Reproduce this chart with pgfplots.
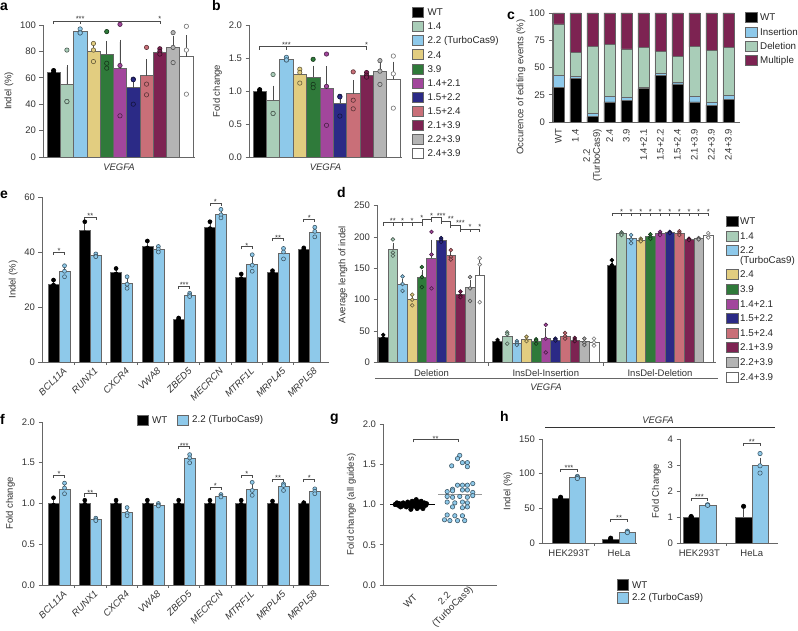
\documentclass[border=0pt]{standalone}
\usepackage{fontspec}
\setmainfont{Liberation Sans}
\usepackage{pgfplots}
\pgfplotsset{compat=1.18}

\definecolor{cWT}{HTML}{000000}
\definecolor{cA}{HTML}{A9CDB8}
\definecolor{cB}{HTML}{8EC9EA}
\definecolor{cC}{HTML}{E2CD80}
\definecolor{cD}{HTML}{2F7A3A}
\definecolor{cE}{HTML}{A2469C}
\definecolor{cF}{HTML}{2B2A86}
\definecolor{cG}{HTML}{C96F78}
\definecolor{cH}{HTML}{7D2352}
\definecolor{cI}{HTML}{B4B4B4}
\definecolor{cJ}{HTML}{FFFFFF}

\pgfplotsset{
  prism/.style={
    scale only axis, anchor=south west, clip=false,
    axis lines*=left,
    axis line style={-, black!60, line width=0.7pt},
    tick align=outside, major tick length=3.5pt,
    tick style={black!60, line width=0.7pt},
    ticklabel style={font=\fontsize{9.5}{10}\selectfont, text=black!80},
    label style={font=\fontsize{9.5}{10}\selectfont, text=black!80},
    /pgf/number format/assume math mode=true,
  },
  onedec/.style={yticklabel style={/pgf/number format/.cd, fixed, fixed zerofill, precision=1}},
}

\newcommand\ms{2.2pt}
% bar with upward error bar: x, mean, err, colour, width
\newcommand\bb[5]{%
  \addplot[ybar, bar shift=0pt, bar width=#5, fill=#4, draw=black!60, line width=0.6pt,
    error bars/.cd, y dir=plus, y explicit,
    error bar style={black!70, line width=0.6pt},
    error mark options={black!70, mark size=2.2pt, line width=0.6pt}]
    coordinates {(#1,#2) +- (0,#3)};}
% replicate points
\newcommand\pts[2]{%
  \addplot[only marks, mark=*, mark size=\ms, line width=0.6pt,
    mark options={fill=#1, draw=#1!45!black}] coordinates {#2};}
% significance bracket: x1, x2, y, stars
\newcommand\sig[4]{%
  \draw[black!70, line width=0.6pt] ([yshift=-3pt]axis cs:#1,#3) -- (axis cs:#1,#3)
    -- (axis cs:#2,#3) -- ([yshift=-3pt]axis cs:#2,#3);
  \node[font=\fontsize{7.5}{8}\selectfont, text=black!80, inner sep=0pt, anchor=south, yshift=-2pt]
    at (axis cs:{(#1+#2)/2},#3) {#4};}
\newcommand\stars[3]{%
  \node[font=\fontsize{7.5}{8}\selectfont, text=black!80, inner sep=0pt, anchor=south, yshift=-1pt]
    at (axis cs:#1,#2) {#3};}
\newcommand\sep[1]{\draw[black!60, line width=0.7pt] (axis cs:#1,0) -- ++(0pt,-3.5pt);}

\begin{document}
\begin{tikzpicture}
\path[use as bounding box] (0pt,0pt) rectangle (798pt,631pt);

% ---------------- a ----------------
\begin{axis}[prism, at={(43pt,474pt)}, width=152pt, height=132pt,
  xmin=0.2, xmax=11.65, ymin=0, ymax=100, ytick={0,20,...,100}, xtick=\empty,
  ylabel={Indel (\%)}, xlabel={\itshape VEGFA}]
\bb{1}{64.2}{1.2}{cWT}{1}\pts{cWT}{(1,65.5)(1,63.5)(1,63.6)}
\bb{2}{55}{13}{cA}{1}\pts{cA}{(2,81)(2,42)(2,42)}
\bb{3}{95}{1}{cB}{1}\pts{cB}{(3,97)(3,94)(3,94)}
\bb{4}{79.8}{4}{cC}{1}\pts{cC}{(4,86)(4,81)(4,72.3)}
\bb{5}{77.8}{8.5}{cD}{1}\pts{cD}{(5,95)(5,71)(5,67.3)}
\bb{6}{67}{20}{cE}{1}\pts{cE}{(6,100.5)(6,69.3)(6,31.2)}
\bb{7}{52.5}{6.5}{cF}{1}\pts{cF}{(7,59)(7,58.5)(7,40)}
\bb{8}{61.7}{10.8}{cG}{1}\pts{cG}{(8,83)(8,55.2)(8,47.1)}
\bb{9}{79.6}{1.2}{cH}{1}\pts{cH}{(9,82)(9,80)(9,78)}
\bb{10}{83.1}{6.9}{cI}{1}\pts{cI}{(10,94.2)(10,83)(10,71.5)}
\bb{11}{76}{14.7}{cJ}{1}\pts{cJ}{(11,99)(11,81)(11,47.6)}
\draw[black!70, line width=0.6pt] ([yshift=-3pt]axis cs:1,103) -- (axis cs:1,103) -- (axis cs:9,103) -- ([yshift=-3pt]axis cs:9,103);
\draw[black!70, line width=0.6pt] (axis cs:3,103) -- ([yshift=-3pt]axis cs:3,103);
\stars{3}{103}{***}\stars{9}{103}{*}
\end{axis}

% ---------------- b ----------------
\begin{axis}[prism, onedec, at={(249pt,474pt)}, width=153pt, height=132pt,
  xmin=0.2, xmax=11.65, ymin=0, ymax=2, ytick={0,0.5,...,2}, xtick=\empty,
  ylabel={Fold change}, xlabel={\itshape VEGFA}]
\bb{1}{1.0}{0.02}{cWT}{1}\pts{cWT}{(1,1.02)(1,0.99)(1,0.99)}
\bb{2}{0.857}{0.19}{cA}{1}\pts{cA}{(2,1.25)(2,0.66)(2,0.66)}
\bb{3}{1.48}{0.02}{cB}{1}\pts{cB}{(3,1.51)(3,1.47)(3,1.47)}
\bb{4}{1.25}{0.06}{cC}{1}\pts{cC}{(4,1.33)(4,1.28)(4,1.12)}
\bb{5}{1.21}{0.14}{cD}{1}\pts{cD}{(5,1.48)(5,1.1)(5,1.05)}
\bb{6}{1.04}{0.3}{cE}{1}\pts{cE}{(6,1.56)(6,1.07)(6,0.48)}
\bb{7}{0.82}{0.1}{cF}{1}\pts{cF}{(7,0.92)(7,0.91)(7,0.62)}
\bb{8}{0.96}{0.17}{cG}{1}\pts{cG}{(8,1.29)(8,0.86)(8,0.73)}
\bb{9}{1.24}{0.02}{cH}{1}\pts{cH}{(9,1.28)(9,1.24)(9,1.21)}
\bb{10}{1.30}{0.1}{cI}{1}\pts{cI}{(10,1.46)(10,1.30)(10,1.10)}
\bb{11}{1.18}{0.23}{cJ}{1}\pts{cJ}{(11,1.53)(11,1.26)(11,0.74)}
\draw[black!70, line width=0.6pt] ([yshift=-3pt]axis cs:1,1.67) -- (axis cs:1,1.67) -- (axis cs:9,1.67) -- ([yshift=-3pt]axis cs:9,1.67);
\draw[black!70, line width=0.6pt] (axis cs:3,1.67) -- ([yshift=-3pt]axis cs:3,1.67);
\stars{3}{1.67}{***}\stars{9}{1.67}{*}
\end{axis}

% ---------------- c ----------------
\begin{axis}[prism, ybar stacked, bar width=0.65, at={(552pt,509pt)}, width=188pt, height=109pt,
  xmin=-0.38, xmax=10.68, ymin=0, ymax=100, ytick={0,25,50,75,100},
  xtick={0,...,10}, xtick style={draw=none},
  xticklabels={WT,1.4,{2.2\\(TurboCas9)},2.4,3.9,1.4+2.1,1.5+2.2,1.5+2.4,2.1+3.9,2.2+3.9,2.4+3.9},
  xticklabel style={rotate=90, anchor=east, align=center},
  ylabel={Occurence of editing events (\%)},
  ylabel style={at={(ticklabel cs:0.32)}}, ylabel shift=-3pt]
\addplot[fill=cWT, draw=black!60, line width=0.6pt] coordinates {(0,32)(1,40)(2,5)(3,18.5)(4,20)(5,30.5)(6,43)(7,35)(8,18.5)(9,15.5)(10,20.5)};
\addplot[fill=cB, draw=black!60, line width=0.6pt] coordinates {(0,11)(1,2)(2,3)(3,5)(4,3)(5,1.5)(6,1.5)(7,1.5)(8,5)(9,2.5)(10,4)};
\addplot[fill=cA, draw=black!60, line width=0.6pt] coordinates {(0,47)(1,22)(2,61)(3,47.5)(4,44)(5,36.5)(6,20)(7,24)(8,45.5)(9,47.5)(10,44)};
\addplot[fill=cH, draw=black!60, line width=0.6pt] coordinates {(0,10)(1,36)(2,31)(3,29)(4,33)(5,31.5)(6,35.5)(7,39.5)(8,31)(9,34.5)(10,31.5)};
\end{axis}

% ---------------- d ----------------
\renewcommand\ms{1.9pt}
\begin{axis}[prism, at={(377pt,268.5pt)}, width=339pt, height=157pt,
  xmin=-0.65, xmax=34.5, ymin=0, ymax=250, ytick={0,50,...,250},
  xtick={5,16.85,28.7}, xtick style={draw=none},
  xticklabels={Deletion,InsDel-Insertion,InsDel-Deletion},
  ylabel={Average length of indel}, ylabel style={at={(ticklabel cs:0.56)}}]
\bb{0}{40}{2}{cWT}{1}\pts{cWT}{(0,44)(0,39)(0,37)}
\bb{1}{180}{6}{cA}{1}\pts{cA}{(1,196)(1,175)(1,170)}
\bb{2}{125}{5}{cB}{1}\pts{cB}{(2,137)(2,125)(2,114)}
\bb{3}{100}{5}{cC}{1}\pts{cC}{(3,108)(3,100)(3,91)}
\bb{4}{136}{8}{cD}{1}\pts{cD}{(4,152)(4,136)(4,120)}
\bb{5}{166}{26}{cE}{1}\pts{cE}{(5,208)(5,172)(5,118)}
\bb{6}{195}{3}{cF}{1}\pts{cF}{(6,198)(6,195)(6,192)}
\bb{7}{170}{4}{cG}{1}\pts{cG}{(7,179)(7,168)(7,164)}
\bb{8}{108}{3}{cH}{1}\pts{cH}{(8,113)(8,107)(8,104)}
\bb{9}{120}{8}{cI}{1}\pts{cI}{(9,136)(9,118)(9,98)}
\bb{10}{139}{20}{cJ}{1}\pts{cJ}{(10,166)(10,156)(10,96)}
\bb{11.85}{33}{2}{cWT}{1}\pts{cWT}{(11.85,36)(11.85,33)(11.85,31)}
\bb{12.85}{41}{4}{cA}{1}\pts{cA}{(12.85,48)(12.85,45)(12.85,30)}
\bb{13.85}{31}{2}{cB}{1}\pts{cB}{(13.85,34)(13.85,31)(13.85,28)}
\bb{14.85}{37}{2}{cC}{1}\pts{cC}{(14.85,41)(14.85,36)(14.85,34)}
\bb{15.85}{34}{2}{cD}{1}\pts{cD}{(15.85,37)(15.85,35)(15.85,30)}
\bb{16.85}{38}{13}{cE}{1}\pts{cE}{(16.85,60)(16.85,38)(16.85,16)}
\bb{17.85}{36}{1}{cF}{1}\pts{cF}{(17.85,38)(17.85,36)(17.85,35)}
\bb{18.85}{42}{3}{cG}{1}\pts{cG}{(18.85,47)(18.85,42)(18.85,38)}
\bb{19.85}{36}{2}{cH}{1}\pts{cH}{(19.85,39)(19.85,36)(19.85,34)}
\bb{20.85}{33}{3}{cI}{1}\pts{cI}{(20.85,38)(20.85,32)(20.85,28)}
\bb{21.85}{32}{3}{cJ}{1}\pts{cJ}{(21.85,38)(21.85,32)(21.85,27)}
\bb{23.7}{155}{5}{cWT}{1}\pts{cWT}{(23.7,163)(23.7,155)(23.7,149)}
\bb{24.7}{205}{2}{cA}{1}\pts{cA}{(24.7,207)(24.7,205)(24.7,203)}
\bb{25.7}{197}{4}{cB}{1}\pts{cB}{(25.7,203)(25.7,196)(25.7,190)}
\bb{26.7}{195}{2}{cC}{1}\pts{cC}{(26.7,197)(26.7,195)(26.7,193)}
\bb{27.7}{201}{3}{cD}{1}\pts{cD}{(27.7,204)(27.7,200)(27.7,197)}
\bb{28.7}{205}{2}{cE}{1}\pts{cE}{(28.7,208)(28.7,205)(28.7,203)}
\bb{29.7}{207}{1}{cF}{1}\pts{cF}{(29.7,208)(29.7,207)(29.7,206)}
\bb{30.7}{206}{2}{cG}{1}\pts{cG}{(30.7,209)(30.7,206)(30.7,203)}
\bb{31.7}{196}{1}{cH}{1}\pts{cH}{(31.7,197)(31.7,196)(31.7,195)}
\bb{32.7}{197}{1}{cI}{1}\pts{cI}{(32.7,198)(32.7,197)(32.7,196)}
\bb{33.7}{202}{3}{cJ}{1}\pts{cJ}{(33.7,206)(33.7,202)(33.7,199)}
\sep{10.93}\sep{22.78}
\draw[black!70, line width=0.6pt] (axis cs:0,222.6) -- (axis cs:4,222.6) -- (axis cs:4,228) -- (axis cs:5,228) -- (axis cs:5,231) -- (axis cs:6,231) -- (axis cs:6,225) -- (axis cs:7,225) -- (axis cs:7,219) -- (axis cs:8,219) -- (axis cs:8,212.5) -- (axis cs:10,212.5);
\draw[black!70, line width=0.6pt] (axis cs:0,222.6) -- ++(0pt,-3pt) (axis cs:1,222.6) -- ++(0pt,-3pt) (axis cs:2,222.6) -- ++(0pt,-3pt) (axis cs:3,222.6) -- ++(0pt,-3pt) (axis cs:4,222.6) -- ++(0pt,-3pt) (axis cs:5,228) -- ++(0pt,-3pt) (axis cs:6,225) -- ++(0pt,-3pt) (axis cs:7,219) -- ++(0pt,-3pt) (axis cs:8,212.5) -- ++(0pt,-3pt) (axis cs:9,212.5) -- ++(0pt,-3pt) (axis cs:10,212.5) -- ++(0pt,-3pt);
\stars{1}{222.6}{**}\stars{2}{222.6}{*}\stars{3}{222.6}{*}\stars{4}{228}{*}\stars{5}{231}{*}
\stars{6}{231}{***}\stars{7}{225}{**}\stars{8}{219}{***}\stars{9}{212.5}{*}\stars{10}{212.5}{*}
\draw[black!70, line width=0.6pt] (axis cs:23.7,237.6) -- (axis cs:33.7,237.6);
\pgfplotsinvokeforeach{0,...,10}{\draw[black!70, line width=0.6pt] (axis cs:{23.7+#1},237.6) -- ++(0pt,-3pt);}
\pgfplotsinvokeforeach{1,...,10}{\stars{{23.7+#1}}{237.6}{*}}
\end{axis}
\draw[black!60, line width=0.7pt] (375pt,253pt) -- (718pt,253pt);
\node[font=\itshape\fontsize{9.5}{10}\selectfont, text=black!80] at (546pt,244pt) {VEGFA};

% ---------------- e ----------------
\renewcommand\ms{2pt}
\begin{axis}[prism, at={(42pt,269pt)}, width=287pt, height=165pt,
  xmin=0.456, xmax=9.63, ymin=0, ymax=60, ytick={0,20,40,60},
  xtick={1,...,9}, xtick style={draw=none},
  xticklabels={BCL11A,RUNX1,CXCR4,VWA8,ZBED5,MECRCN,MTRF1L,MRPL45,MRPL58},
  xticklabel style={rotate=45, anchor=north east, font=\itshape\fontsize{9.5}{10}\selectfont, xshift=5pt},
  ylabel={Indel (\%)}]
\bb{0.824}{28.3}{0.8}{cWT}{0.352}\pts{cWT}{(0.824,29.8)(0.824,28)(0.824,27.5)}
\bb{1.176}{33}{1.2}{cB}{0.352}\pts{cB}{(1.176,35)(1.176,33)(1.176,31)}
\bb{1.824}{48}{1.5}{cWT}{0.352}\pts{cWT}{(1.824,51)(1.824,47)(1.824,46)}
\bb{2.176}{38.7}{0.4}{cB}{0.352}\pts{cB}{(2.176,39.3)(2.176,38.5)(2.176,38.3)}
\bb{2.824}{32.6}{0.8}{cWT}{0.352}\pts{cWT}{(2.824,34)(2.824,32)(2.824,31.8)}
\bb{3.176}{28.7}{1.2}{cB}{0.352}\pts{cB}{(3.176,31)(3.176,28.3)(3.176,26.8)}
\bb{3.824}{42}{1}{cWT}{0.352}\pts{cWT}{(3.824,44)(3.824,41.5)(3.824,40.5)}
\bb{4.176}{41}{0.6}{cB}{0.352}\pts{cB}{(4.176,42)(4.176,41)(4.176,40)}
\bb{4.824}{15.6}{0.3}{cWT}{0.352}\pts{cWT}{(4.824,16)(4.824,15.5)(4.824,15.3)}
\bb{5.176}{24.4}{0.4}{cB}{0.352}\pts{cB}{(5.176,25)(5.176,24.4)(5.176,23.8)}
\bb{5.824}{49}{1}{cWT}{0.352}\pts{cWT}{(5.824,51)(5.824,48.5)(5.824,47.5)}
\bb{6.176}{53.8}{0.8}{cB}{0.352}\pts{cB}{(6.176,55.5)(6.176,53.5)(6.176,52.4)}
\bb{6.824}{30.7}{0.6}{cWT}{0.352}\pts{cWT}{(6.824,32)(6.824,30.3)(6.824,29.8)}
\bb{7.176}{35.7}{1.6}{cB}{0.352}\pts{cB}{(7.176,39)(7.176,35.2)(7.176,33)}
\bb{7.824}{32.5}{0.4}{cWT}{0.352}\pts{cWT}{(7.824,33.2)(7.824,32.3)(7.824,32)}
\bb{8.176}{39.5}{1}{cB}{0.352}\pts{cB}{(8.176,41.3)(8.176,40)(8.176,37.5)}
\bb{8.824}{41}{0.3}{cWT}{0.352}\pts{cWT}{(8.824,41.5)(8.824,41)(8.824,40.6)}
\bb{9.176}{47.3}{0.8}{cB}{0.352}\pts{cB}{(9.176,49)(9.176,47.5)(9.176,45.5)}
\sep{1.5}\sep{2.5}\sep{3.5}\sep{4.5}\sep{5.5}\sep{6.5}\sep{7.5}\sep{8.5}
\sig{0.824}{1.176}{40}{*}\sig{1.824}{2.176}{52.7}{**}\sig{4.824}{5.176}{27.6}{***}
\sig{5.824}{6.176}{57.8}{*}\sig{6.824}{7.176}{42}{*}\sig{7.824}{8.176}{45}{**}\sig{8.824}{9.176}{52}{*}
\end{axis}

% ---------------- f ----------------
\begin{axis}[prism, onedec, at={(42pt,46pt)}, width=287pt, height=163pt,
  xmin=0.456, xmax=9.63, ymin=0, ymax=2, ytick={0,0.5,...,2},
  xtick={1,...,9}, xtick style={draw=none},
  xticklabels={BCL11A,RUNX1,CXCR4,VWA8,ZBED5,MECRCN,MTRF1L,MRPL45,MRPL58},
  xticklabel style={rotate=45, anchor=north east, font=\itshape\fontsize{9.5}{10}\selectfont, xshift=5pt},
  ylabel={Fold change}]
\bb{0.824}{1}{0.04}{cWT}{0.352}\pts{cWT}{(0.824,1.07)(0.824,0.98)(0.824,0.96)}
\bb{1.176}{1.18}{0.03}{cB}{0.352}\pts{cB}{(1.176,1.25)(1.176,1.19)(1.176,1.12)}
\bb{1.824}{1}{0.02}{cWT}{0.352}\pts{cWT}{(1.824,1.04)(1.824,0.99)(1.824,0.97)}
\bb{2.176}{0.80}{0.01}{cB}{0.352}\pts{cB}{(2.176,0.82)(2.176,0.80)(2.176,0.79)}
\bb{2.824}{1}{0.02}{cWT}{0.352}\pts{cWT}{(2.824,1.04)(2.824,0.99)(2.824,0.97)}
\bb{3.176}{0.89}{0.03}{cB}{0.352}\pts{cB}{(3.176,0.95)(3.176,0.88)(3.176,0.85)}
\bb{3.824}{1}{0.02}{cWT}{0.352}\pts{cWT}{(3.824,1.04)(3.824,0.99)(3.824,0.97)}
\bb{4.176}{0.98}{0.01}{cB}{0.352}\pts{cB}{(4.176,1.0)(4.176,0.98)(4.176,0.97)}
\bb{4.824}{1}{0.02}{cWT}{0.352}\pts{cWT}{(4.824,1.04)(4.824,0.99)(4.824,0.97)}
\bb{5.176}{1.55}{0.02}{cB}{0.352}\pts{cB}{(5.176,1.60)(5.176,1.56)(5.176,1.50)}
\bb{5.824}{1}{0.02}{cWT}{0.352}\pts{cWT}{(5.824,1.04)(5.824,0.99)(5.824,0.97)}
\bb{6.176}{1.09}{0.01}{cB}{0.352}\pts{cB}{(6.176,1.11)(6.176,1.09)(6.176,1.08)}
\bb{6.824}{1}{0.02}{cWT}{0.352}\pts{cWT}{(6.824,1.04)(6.824,0.99)(6.824,0.97)}
\bb{7.176}{1.17}{0.04}{cB}{0.352}\pts{cB}{(7.176,1.26)(7.176,1.16)(7.176,1.10)}
\bb{7.824}{1}{0.02}{cWT}{0.352}\pts{cWT}{(7.824,1.03)(7.824,0.99)(7.824,0.98)}
\bb{8.176}{1.21}{0.03}{cB}{0.352}\pts{cB}{(8.176,1.24)(8.176,1.22)(8.176,1.16)}
\bb{8.824}{1}{0.01}{cWT}{0.352}\pts{cWT}{(8.824,1.01)(8.824,1.0)(8.824,0.99)}
\bb{9.176}{1.15}{0.02}{cB}{0.352}\pts{cB}{(9.176,1.18)(9.176,1.15)(9.176,1.12)}
\sep{1.5}\sep{2.5}\sep{3.5}\sep{4.5}\sep{5.5}\sep{6.5}\sep{7.5}\sep{8.5}
\sig{0.824}{1.176}{1.35}{*}\sig{1.824}{2.176}{1.12}{**}\sig{4.824}{5.176}{1.70}{***}
\sig{5.824}{6.176}{1.20}{*}\sig{6.824}{7.176}{1.35}{*}\sig{7.824}{8.176}{1.30}{**}\sig{8.824}{9.176}{1.30}{*}
\end{axis}

% ---------------- g ----------------
\renewcommand\ms{2.2pt}
\begin{axis}[prism, onedec, at={(383pt,46pt)}, width=114pt, height=161pt,
  xmin=-0.67, xmax=1.87, ymin=0, ymax=2, ytick={0,0.5,...,2},
  xtick={0,1}, xtick style={draw=none}, xticklabels={WT,{}},
  xticklabel style={rotate=45, anchor=north east},
  ylabel={Fold change (all guides)}]
\pts{cWT}{(-0.4,1.00)(-0.33,0.99)(-0.3,1.01)(-0.25,0.98)(-0.22,1.02)(-0.18,1.00)(-0.15,0.97)(-0.12,1.03)(-0.1,0.99)(-0.07,1.01)(-0.04,0.96)(-0.02,1.04)(0,1.00)(0.03,0.98)(0.05,1.02)(0.07,1.06)(0.1,0.99)(0.12,1.03)(0.15,0.97)(0.17,1.01)(0.2,1.00)(0.22,0.95)(0.25,1.02)(0.28,0.99)(0.3,1.01)(-0.36,1.02)(-0.28,0.97)(0.09,0.95)(0.18,1.04)(-0.05,0.94)}
\pts{cB}{(1.04,1.61)(0.99,1.57)(1.10,1.52)(1.21,1.52)(0.86,1.48)(1.21,1.47)(0.88,1.19)(0.99,1.24)(1.10,1.24)(1.21,1.24)(1.33,1.26)(0.76,1.16)(0.88,1.17)(1.10,1.18)(1.21,1.18)(1.33,1.15)(0.76,1.10)(0.88,1.09)(1.04,1.10)(1.21,1.09)(1.33,1.11)(0.76,1.03)(0.93,1.02)(1.10,1.03)(1.21,1.02)(0.88,0.97)(1.10,0.96)(1.21,0.97)(0.76,0.87)(0.93,0.86)(1.10,0.86)(0.70,0.81)(0.82,0.80)(0.99,0.80)(1.15,0.80)}
\addplot[black, line width=0.9pt] coordinates {(-0.51,1.0)(0.49,1.0)};
\addplot[black!40, line width=0.9pt] coordinates {(0.56,1.13)(1.53,1.13)};
\sig{0}{1}{1.81}{**}
\node[rotate=45, anchor=center, align=center, inner sep=0pt, font=\fontsize{9.5}{11.5}\selectfont, text=black!80]
  at ([xshift=-9pt,yshift=-18pt]axis cs:1,0) {2.2\\(TurboCas9)};
\end{axis}

% ---------------- h ----------------
\begin{axis}[prism, at={(542pt,88pt)}, width=95pt, height=104pt,
  xmin=0.46, xmax=2.36, ymin=0, ymax=150, ytick={0,50,100,150},
  xtick={1,2}, xtick style={draw=none}, xticklabels={HEK293T,HeLa},
  ylabel={Indel (\%)}]
\bb{0.833}{64}{0.5}{cWT}{0.333}\pts{cWT}{(0.833,66)(0.833,64)(0.833,63)}
\bb{1.167}{95}{0.5}{cB}{0.333}\pts{cB}{(1.167,96)(1.167,95)(1.167,93)}
\bb{1.833}{5}{0.6}{cWT}{0.333}\pts{cWT}{(1.833,7)(1.833,5)(1.833,4)}
\bb{2.167}{16}{0.8}{cB}{0.333}\pts{cB}{(2.167,17)(2.167,16)(2.167,15)}
\sep{1.5}
\sig{0.833}{1.167}{106.7}{***}\sig{1.833}{2.167}{34.6}{**}
\end{axis}
\begin{axis}[prism, at={(680pt,88pt)}, width=98pt, height=104pt,
  xmin=0.63, xmax=2.5, ymin=0, ymax=4, ytick={0,...,4},
  xtick={1,2}, xtick style={draw=none}, xticklabels={HEK293T,HeLa},
  ylabel={Fold Change}]
\bb{0.843}{1.0}{0.01}{cWT}{0.314}\pts{cWT}{(0.843,1.02)(0.843,1.0)(0.843,0.98)}
\bb{1.157}{1.46}{0.01}{cB}{0.314}\pts{cB}{(1.157,1.47)(1.157,1.46)(1.157,1.45)}
\bb{1.843}{1.0}{0.22}{cWT}{0.314}\pts{cWT}{(1.843,1.41)(1.843,0.85)(1.843,0.75)}
\bb{2.157}{3.0}{0.2}{cB}{0.314}\pts{cB}{(2.157,3.44)(2.157,2.97)(2.157,2.69)}
\sep{1.52}
\sig{0.843}{1.157}{1.73}{***}\sig{1.843}{2.157}{3.85}{**}
\end{axis}
\draw[black!80, line width=0.7pt] (545pt,204pt) -- (775pt,204pt);
\node[font=\itshape\fontsize{9.5}{10}\selectfont, text=black!80] at (658pt,211pt) {VEGFA};

% ---------------- legends ----------------
\foreach \c/\t [count=\k from 0] in {cWT/WT,cA/1.4,cB/{2.2 (TurboCas9)},cC/2.4,cD/3.9,cE/1.4+2.1,cF/1.5+2.2,cG/1.5+2.4,cH/2.1+3.9,cI/2.2+3.9,cJ/2.4+3.9}{
  \pgfmathsetmacro\yy{631-12.5-14.1*\k}
  \draw[fill=\c, draw=black!60, line width=0.6pt] (412pt,\yy pt-5pt) rectangle (423.5pt,\yy pt+5pt);
  \node[anchor=west, inner sep=0pt, font=\fontsize{9.8}{10}\selectfont, text=black!85] at (427.5pt,\yy pt) {\t};
}
\foreach \c/\t/\y in {cWT/WT/17,cB/Insertion/32,cA/Deletion/46.5,cH/Multiple/60.5}{
  \pgfmathsetmacro\yy{631-\y}
  \draw[fill=\c, draw=black!60, line width=0.6pt] (745pt,\yy pt-5pt) rectangle (757pt,\yy pt+5pt);
  \node[anchor=west, inner sep=0pt, font=\fontsize{9.8}{10}\selectfont, text=black!85] at (760pt,\yy pt) {\t};
}
\foreach \c/\t/\y in {cWT/WT/221,cA/1.4/236,cB/2.2/250,cC/2.4/274,cD/3.9/289,cE/1.4+2.1/304,cF/1.5+2.2/318,cG/1.5+2.4/333,cH/2.1+3.9/347,cI/2.2+3.9/362,cJ/2.4+3.9/377}{
  \pgfmathsetmacro\yy{631-\y}
  \draw[fill=\c, draw=black!60, line width=0.6pt] (726pt,\yy pt-5pt) rectangle (738pt,\yy pt+5pt);
  \node[anchor=west, inner sep=0pt, font=\fontsize{9.8}{10}\selectfont, text=black!85] at (740pt,\yy pt) {\t};
}
\node[anchor=west, inner sep=0pt, font=\fontsize{9.8}{10}\selectfont, text=black!85] at (740pt,370pt) {(TurboCas9)};
\foreach \c/\t/\x in {cWT/WT/137,cB/{2.2 (TurboCas9)}/177}{
  \draw[fill=\c, draw=black!60, line width=0.6pt] (\x pt,206pt) rectangle (\x pt+11.5pt,216pt);
  \node[anchor=west, inner sep=0pt, font=\fontsize{9.8}{10}\selectfont, text=black!85] at (\x pt+15pt,211pt) {\t};
}
\foreach \c/\t/\y in {cWT/WT/585,cB/{2.2 (TurboCas9)}/598}{
  \pgfmathsetmacro\yy{631-\y}
  \draw[fill=\c, draw=black!60, line width=0.6pt] (617pt,\yy pt-5.5pt) rectangle (628pt,\yy pt+5.5pt);
  \node[anchor=west, inner sep=0pt, font=\fontsize{9.8}{10}\selectfont, text=black!85] at (632pt,\yy pt) {\t};
}

% ---------------- panel letters ----------------
\foreach \l/\x/\y in {a/0/620,b/212/620,c/507/611,d/337/433,e/0/432,f/0/206,g/330/209,h/500/209}{
  \node[anchor=base west, inner sep=0pt, font=\bfseries\fontsize{14}{14}\selectfont] at (\x pt,\y pt) {\l};
}
\end{tikzpicture}
\end{document}
